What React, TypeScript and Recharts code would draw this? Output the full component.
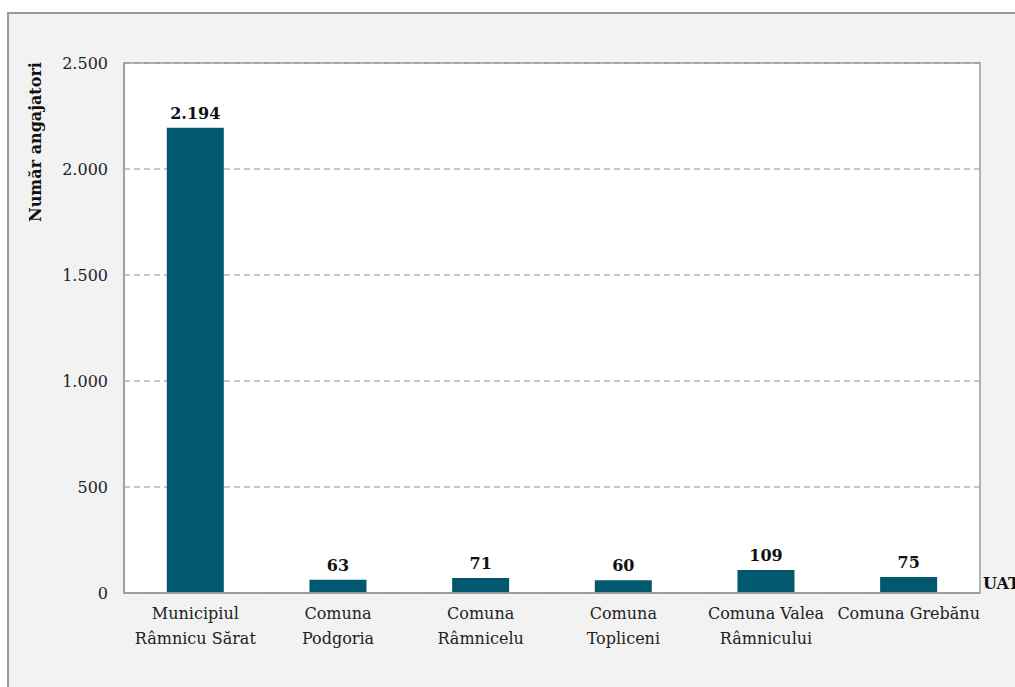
import React from 'react'
import { BarChart, Bar, XAxis, YAxis, CartesianGrid, LabelList } from 'recharts'

const categories = [
  'Municipiul\nRâmnicu Sărat',
  'Comuna\nPodgoria',
  'Comuna\nRâmnicelu',
  'Comuna\nTopliceni',
  'Comuna Valea\nRâmnicului',
  'Comuna Grebănu',
]
const angajatori = [2194, 63, 71, 60, 109, 75]
const yTicks = [0, 500, 1000, 1500, 2000, 2500]

const data = categories.map((name, i) => ({ name, value: angajatori[i] }))

const FONT = '"DejaVu Serif", "Liberation Serif", serif'
const fmt = (v: number) => v.toLocaleString('de-DE')

function XTick(props: any) {
  const { x, y, payload } = props
  const lines = String(payload.value).split('\n')
  return (
    <text x={x} y={y} textAnchor="middle" fontFamily={FONT} fontSize={16} fill="#222">
      {lines.map((l, i) => (
        <tspan key={i} x={x} dy={i === 0 ? 18 : 25}>{l}</tspan>
      ))}
    </text>
  )
}

export default function App() {
  return (
    <div style={{ position: 'relative', width: 1015, height: 687, overflow: 'hidden' }}>
      <style>{`body{margin:0;overflow:hidden}`}</style>
      <div
        style={{
          position: 'absolute', left: 7, top: 12, width: 1100, height: 800,
          background: '#f2f2f2', borderLeft: '2px solid #9a9a9a', borderTop: '2px solid #9a9a9a',
        }}
      />
      <div style={{ position: 'absolute', left: 0, top: 0 }}>
        <BarChart
          width={1015}
          height={687}
          data={data}
          margin={{ top: 63, right: 35, left: 0, bottom: 34 }}
          barCategoryGap="30%"
        >
          <CartesianGrid vertical={false} stroke="#8c8c8c" strokeDasharray="6 4" fill="#ffffff" />
          <XAxis
            dataKey="name"
            height={60}
            interval={0}
            tickLine={false}
            axisLine={{ stroke: '#9a9a9a', strokeWidth: 1.5 }}
            tick={<XTick />}
            label={{
              content: () => (
                <text x={983} y={589} fontFamily={FONT} fontSize={16} fontWeight="bold" fill="#111">UAT</text>
              ),
            }}
          />
          <YAxis
            width={124}
            domain={[0, 2500]}
            ticks={yTicks}
            tickFormatter={fmt}
            tickLine={false}
            tickSize={0}
            tickMargin={16}
            axisLine={{ stroke: '#9a9a9a', strokeWidth: 1.5 }}
            tick={{ fontFamily: FONT, fontSize: 16, fill: '#222' }}
            label={{
              content: () => (
                <text x={41} y={142} transform="rotate(-90 41 142)" textAnchor="middle"
                  fontFamily={FONT} fontSize={16} fontWeight="bold" fill="#111">
                  Număr angajatori
                </text>
              ),
            }}
          />
          <Bar dataKey="value" fill="#01586f" isAnimationActive={false}>
            <LabelList dataKey="value" position="top" offset={9} formatter={(v: any) => fmt(Number(v))}
              style={{ fontFamily: FONT, fontSize: 16, fontWeight: 'bold', fill: '#111' }} />
          </Bar>
        </BarChart>
      </div>
      <svg width={1015} height={687} style={{ position: 'absolute', left: 0, top: 0, pointerEvents: 'none' }}>
        <rect x={124} y={63} width={856} height={530} fill="none" stroke="#9a9a9a" strokeWidth={1.5} />
      </svg>
    </div>
  )
}
